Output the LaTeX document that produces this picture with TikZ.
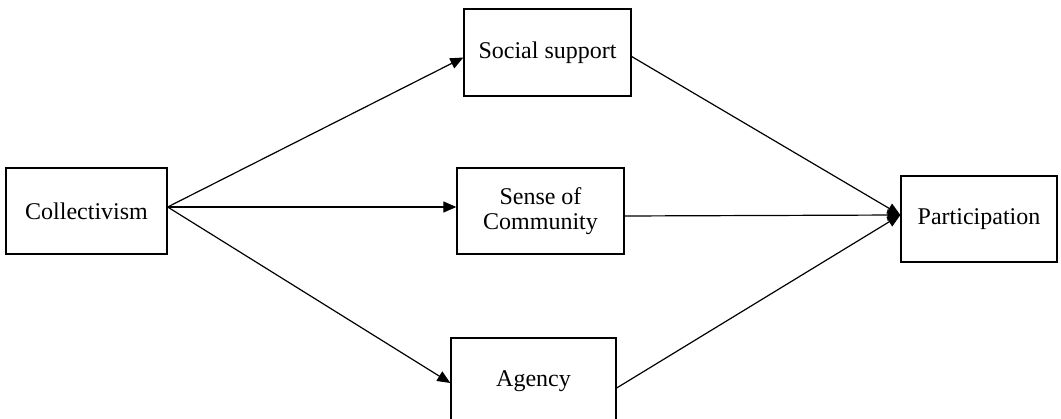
\documentclass[tikz,border=0pt]{standalone}
\usepackage{fontspec}
\setmainfont{Liberation Serif}
\usetikzlibrary{arrows.meta, positioning}

\begin{document}
\begin{tikzpicture}[x = 1pt, y = -1pt,
	box/.style = {draw, line width = 1.3pt, minimum height = 86pt, align = center, font = \fontsize{24}{25}\selectfont},
	arr/.style = {-{Triangle[length = 13pt, width = 11pt]}, line width = 1.2pt}]
	\clip (0, 0) rectangle (1061, 419);

	\node[box, minimum width = 161pt] (coll) at (86.5, 211) {Collectivism};
	\node[box, minimum width = 167pt, minimum height = 87pt] (social) at (547.5, 52.5) {Social support};
	\node[box, minimum width = 167pt] (sense) at (540.5, 211) {Sense of\\Community};
	\node[box, minimum width = 165pt] (agency) at (533.5, 381) {Agency};
	\node[box, minimum width = 156pt] (part) at (979, 219) {Participation};

	\draw[arr] ([yshift = 4pt] coll.east) -- ([yshift = -5pt] social.west);
	\draw[arr] ([yshift = 4pt] coll.east) -- ([yshift = 4pt] sense.west);
	\draw[arr] ([yshift = 4pt] coll.east) -- ([yshift = -2pt] agency.west);
	\draw[arr] ([yshift = -4pt] social.east) -- ([yshift = 4pt] part.west);
	\draw[arr] ([yshift = -5pt] sense.east) -- ([yshift = 4pt] part.west);
	\draw[arr] ([yshift = -7pt] agency.east) -- ([yshift = 4pt] part.west);
\end{tikzpicture}
\end{document}
